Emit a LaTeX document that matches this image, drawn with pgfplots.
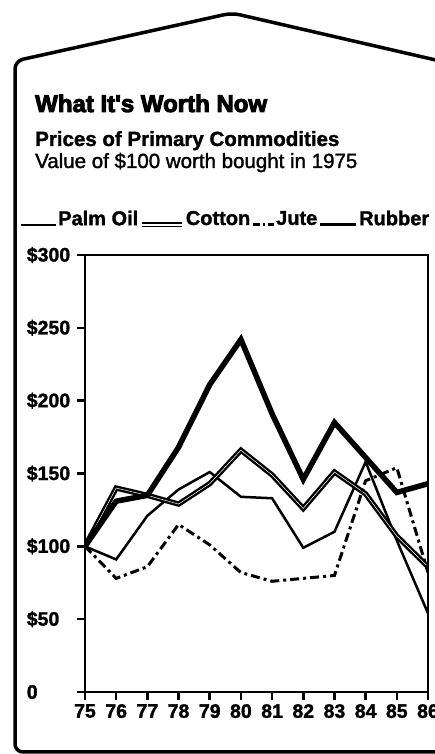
\documentclass[border=0pt]{standalone}
\usepackage{fontspec}
\setmainfont{Liberation Sans}
\newfontfamily\heavyfont[FakeBold=4, BoldFeatures={FakeBold=4}]{Liberation Sans}
\newfontfamily\semifont[FakeBold=1.5, BoldFeatures={FakeBold=1.5}]{Liberation Sans}
\usepackage{pgfplots}
\pgfplotsset{compat=1.18}
\begin{document}
\begin{tikzpicture}
\useasboundingbox (0pt,0pt) rectangle (435pt,754pt);
% frame
\draw[line width=3.5pt, rounded corners=8pt] (440pt,693pt) -- (232pt,741pt) -- (15pt,693pt) -- (15pt,2pt) -- (440pt,2pt);
% titles
\node[anchor=base west, inner sep=0pt, font=\heavyfont\bfseries\fontsize{24}{24}\selectfont] at (35pt,642pt) {What It's Worth Now};
\node[anchor=base west, inner sep=0pt, font=\semifont\bfseries\fontsize{20.5}{20.5}\selectfont] at (35pt,608pt) {Prices of Primary Commodities};
\node[anchor=base west, inner sep=0pt, font=\semifont\fontsize{20.5}{20.5}\selectfont] at (35pt,586pt) {Value of \$100 worth bought in 1975};
\begin{axis}[
  at={(85pt,62pt)}, anchor=south west, scale only axis,
  width=343pt, height=437pt,
  xmin=75, xmax=86, ymin=0, ymax=300,
  xtick={75,76,77,78,79,80,81,82,83,84,85,86},
  xticklabels={75,76,77,78,79,80,81,82,83,84,85,86},
  ytick={0,50,100,150,200,250,300},
  yticklabels={0,\$50,\$100,\$150,\$200,\$250,\$300},
  xtick pos=left, ytick pos=left,
  tick align=outside, major tick length=8pt,
  tick style={line width=2.5pt, black},
  axis line style={line width=2.5pt},
  ticklabel style={font=\semifont\bfseries\fontsize{19.5}{19.5}\selectfont},
  yticklabel style={text width=44pt, align=left, inner sep=0pt, xshift=-6pt},
  xticklabel style={yshift=-3pt, inner sep=1pt},
  legend columns=4,
  legend cell align=left,
  legend style={draw=none, fill=none, inner sep=0pt,
    at={(axis description cs:-0.19,1.083)}, anchor=west,
    font=\semifont\bfseries\fontsize{20}{20}\selectfont,
    nodes={inner sep=1.2pt},
    /tikz/every even column/.append style={column sep=0pt}},
]
\addplot[black, line width=2.5pt,
  legend image code/.code={\draw[black, line width=2pt] (0pt,-6pt) -- (35pt,-6pt);}]
  coordinates {(75,100) (76,91) (77,121) (78,139) (79,151) (80,134) (81,133) (82,99) (83,110) (84,158) (85,104) (86,54)};
\addlegendentry{Palm Oil}
\addplot[black, line width=2.4pt, double=white, double distance=0.5pt,
  legend image code/.code={\draw[black, line width=1.8pt, double=white, double distance=1.6pt] (0pt,-6pt) -- (40pt,-6pt);}]
  coordinates {(75,100) (76,140) (77,135) (78,129) (79,143) (80,166) (81,149) (82,126) (83,151) (84,136) (85,107) (86,86)};
\addlegendentry{Cotton}
\addplot[black, line width=3pt, dash pattern=on 9pt off 4pt on 3pt off 4pt,
  legend image code/.code={\draw[black, line width=2.5pt, dash pattern=on 7pt off 3pt on 2pt off 3pt] (0pt,-6pt) -- (21pt,-6pt);}]
  coordinates {(75,100) (76,78) (77,86) (78,115) (79,101) (80,82) (81,76) (82,78) (83,80) (84,145) (85,154) (86,82)};
\addlegendentry{Jute}
\addplot[black, line width=5.5pt,
  legend image code/.code={\draw[black, line width=3.5pt] (0pt,-6pt) -- (36pt,-6pt);}]
  coordinates {(75,100) (76,131) (77,135) (78,168) (79,211) (80,242) (81,191) (82,146) (83,185) (84,161) (85,137) (86,143)};
\addlegendentry{Rubber}
\end{axis}
\end{tikzpicture}
\end{document}
